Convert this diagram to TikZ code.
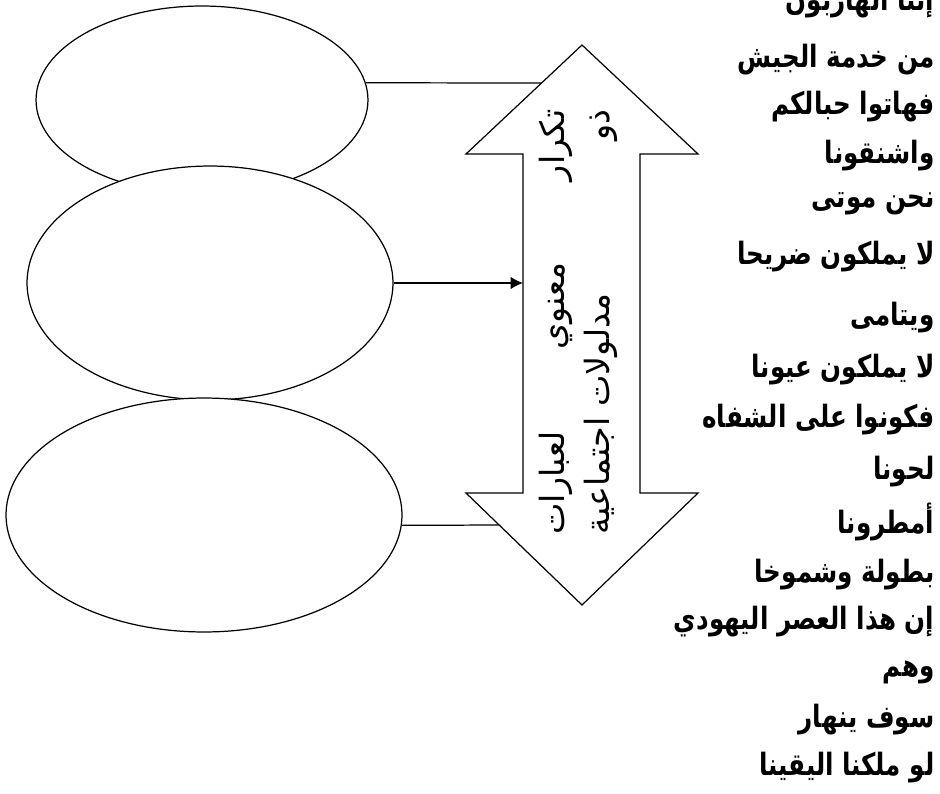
\documentclass[tikz,border=0pt]{standalone}
\usepackage{fontspec}
\usetikzlibrary{arrows.meta}
\usetikzlibrary{shapes.geometric}
\usetikzlibrary{positioning}
\newfontfamily\arabicfont[Script=Arabic]{DejaVu Sans}
\newfontfamily\versefont[Script=Arabic,FakeStretch=0.8]{DejaVu Sans}
\TeXXeTstate=1

\begin{document}
\begin{tikzpicture}
	[x=0.02cm, y=-0.02cm,
	> = {Latex[length=7pt,width=7pt]},
	line width=0.7pt,
	bubble/.style = {draw, ellipse, fill=white, inner sep=0pt},
	verse/.style = {anchor=east, inner sep=0pt, font=\versefont\bfseries\fontsize{17.5}{20}\selectfont},
	shafttext/.style = {rotate=90, inner sep=0pt, font=\arabicfont\fontsize{19}{22}\selectfont}
	]
	\useasboundingbox (0,0) rectangle (940,794);

	\node[bubble, minimum width=6.64cm, minimum height=3.76cm] (e1) at (202,100) {};
	\node[bubble, minimum width=7.32cm, minimum height=4.68cm] (e2) at (210,283) {};
	\node[bubble, minimum width=7.92cm, minimum height=4.68cm] (e3) at (204,515) {};

	\coordinate (tip1) at (582,45);
	\coordinate (w1l) at (466,154);
	\coordinate (w1r) at (698,154);
	\coordinate (s1l) at (523,154);
	\coordinate (s1r) at (640,154);
	\coordinate (s2l) at (523,493);
	\coordinate (s2r) at (640,493);
	\coordinate (w2l) at (466,493);
	\coordinate (w2r) at (698,493);
	\coordinate (tip2) at (582,605);

	\coordinate (c1) at (541,83);
	\coordinate (c2) at (523,283);
	\coordinate (c3) at (499,525);

	\draw (e1.6) -- (c1);
	\draw[->] (e2.east) -- (c2);
	\draw (e3.-3) -- (c3);

	\draw[fill=white] (tip1) -- (w1r) -- (s1r) -- (s2r) -- (w2r) -- (tip2) -- (w2l) -- (s2l) -- (s1l) -- (w1l) -- cycle;

	\node[shafttext] (row1) at (556,322) {\hbox to 8.5cm{\beginR تكرار\hfill معنوي\hfill لعبارات\endR}};
	\node[shafttext] (row2) at (601,322) {\hbox to 8.5cm{\beginR ذو\hfill مدلولات اجتماعية\endR}};

	\foreach \y/\txt [count=\i] in {3/إننا الهاربون, 60/من خدمة الجيش, 107/فهاتوا حبالكم, 156/واشنقونا, 204/نحن موتى, 257/لا يملكون ضريحا, 318/ويتامى, 370/لا يملكون عيونا, 420/فكونوا على الشفاه, 472/لحونا, 522/أمطرونا, 575/بطولة وشموخا, 622/إن هذا العصر اليهودي, 672/وهم, 720/سوف ينهار, 768/لو ملكنا اليقينا}
		\node[verse] (l\i) at (935,\y) {\beginR\txt\endR};
\end{tikzpicture}
\end{document}
